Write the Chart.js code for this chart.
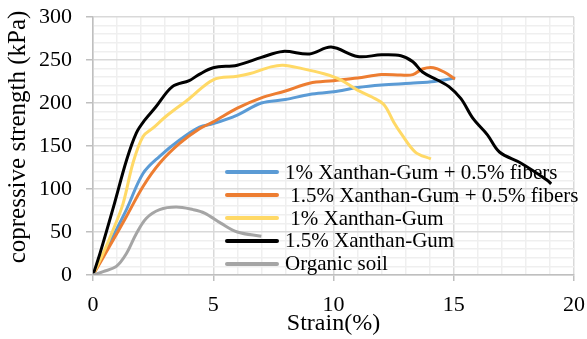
<!DOCTYPE html>
<html>
<head>
<meta charset="utf-8">
<script src="https://cdn.jsdelivr.net/npm/chart.js@4.4.1/dist/chart.umd.min.js"></script>
<style>
  html, body { margin: 0; padding: 0; background: #fff; }
  #wrap { position: relative; width: 587px; height: 339px; }
  #legend {
    position: absolute; left: 225px; top: 161px;
    font-family: "Liberation Serif", "Times New Roman", serif;
    font-size: 21px; color: #000;
  }
  .row { display: flex; align-items: center; height: 22.8px; white-space: pre; }
  .sw { width: 54px; height: 4px; margin-right: 6px; border-radius: 2px; }
  #ytitle {
    position: absolute; left: -133px; top: 122px;
    width: 300px; height: 30px; line-height: 30px; text-align: center;
    font-family: "Liberation Serif", "Times New Roman", serif;
    font-size: 25px; color: #000; white-space: nowrap;
    transform: rotate(-90deg);
  }
</style>
</head>
<body>
<div id="wrap">
  <canvas id="chart" width="587" height="339"></canvas>
  <div id="ytitle">copressive strength (kPa)</div>
  <div id="legend"></div>
</div>
<script>
// Series labels and colours (Excel default palette)
const seriesLabels = [
    '1% Xanthan-Gum + 0.5% fibers',
    ' 1.5% Xanthan-Gum + 0.5% fibers',
    ' 1% Xanthan-Gum',
    '1.5% Xanthan-Gum',
    'Organic soil'
];
const seriesColors = ['#5B9BD5', '#ED7D31', '#FFD966', '#000000', '#A5A5A5'];

// Values: strain (%) and compressive strength (kPa)
const fibers1Strain = [0, 0.7, 1.39, 2.08, 2.77, 3.6, 4.43, 5, 6, 7, 8, 9, 10, 11, 12, 13.2, 14.2, 15.05];
const fibers1Stress = [0, 38, 76, 118, 138, 157, 172, 176, 186, 200, 204, 210, 213, 218, 221, 223, 225, 229];

const fibers15Strain = [0, 0.7, 1.39, 2.08, 2.77, 3.6, 4.43, 5, 6, 7, 8, 9, 10, 11, 12, 12.8, 13.3, 13.7, 14.15, 14.6, 15.05];
const fibers15Stress = [0, 34, 68, 103, 130, 153, 170, 178, 194, 206, 214, 223, 226, 229, 233, 232.5, 233, 239.5, 241, 236, 228];

const gum1Strain = [0, 0.42, 0.83, 1.25, 1.66, 2.08, 2.5, 3.1, 4, 5, 6, 6.5, 7.4, 7.9, 8.7, 9.6, 10.3, 11, 11.6, 12.1, 12.5, 12.8, 13.4, 14.05];
const gum1Stress = [0, 25, 52, 83, 130, 161, 171, 186, 205, 227, 231, 234, 242, 244, 240, 234, 227, 215, 207, 198, 178, 165, 143, 135];

const gum15Strain = [0, 0.3, 0.85, 1.4, 1.8, 2.15, 2.6, 3.3, 4, 4.4, 5, 6, 7, 7.9, 9, 9.9, 11, 12, 12.8, 13.3, 13.7, 14.3, 14.8, 15.3, 15.8, 16.4, 16.9, 17.8, 18.9, 19.05];
const gum15Stress = [0, 26, 79, 134, 165, 180, 195, 219, 226, 233, 241, 244, 253, 260, 257, 265, 254, 256, 255, 248, 236, 227, 219, 205, 182, 163, 143, 130, 110, 106];

const soilStrain = [0, 0.42, 0.97, 1.39, 1.8, 2.22, 2.77, 3.46, 4.16, 4.64, 5.33, 6.0, 7.0];
const soilStress = [0, 4, 10, 25, 48, 66, 76, 79, 76, 72, 60, 50, 45];

// Axis ticks
const xMajorTicks = [0, 5, 10, 15, 20];
const yMajorTicks = [0, 50, 100, 150, 200, 250, 300];

const strains = [fibers1Strain, fibers15Strain, gum1Strain, gum15Strain, soilStrain];
const stresses = [fibers1Stress, fibers15Stress, gum1Stress, gum15Stress, soilStress];

function toPoints(xs, ys) {
    return xs.map((x, i) => ({ x: x, y: ys[i] }));
}

const FONT = '"Liberation Serif", "Times New Roman", serif';
const MAJOR_GRID = '#d9d9d9';
const MINOR_GRID = '#efefef';

const datasets = seriesLabels.map((label, i) => ({
    label: label,
    data: toPoints(strains[i], stresses[i]),
    borderColor: seriesColors[i],
    backgroundColor: seriesColors[i],
    borderWidth: 3,
    pointRadius: 0,
    showLine: true,
    tension: 0.35,
    order: seriesLabels.length - i
}));

new Chart(document.getElementById('chart'), {
    type: 'scatter',
    data: { datasets: datasets },
    options: {
        responsive: false,
        animation: false,
        layout: { padding: { top: 17, right: 13, left: 0, bottom: 0 } },
        plugins: {
            legend: { display: false },
            tooltip: { enabled: false }
        },
        scales: {
            x: {
                type: 'linear',
                min: 0,
                max: 20,
                afterFit: function(scale) {
                    scale.height = 64;
                    scale.paddingLeft = 0;
                    scale.paddingRight = 0;
                },
                ticks: {
                    stepSize: 1,
                    autoSkip: false,
                    maxRotation: 0,
                    padding: 11,
                    color: '#000',
                    font: { family: FONT, size: 22 },
                    callback: function(value) {
                        return xMajorTicks.includes(value) ? value : '';
                    }
                },
                grid: {
                    lineWidth: 1.5,
                    tickLength: 6,
                    color: function(ctx) {
                        return xMajorTicks.includes(ctx.tick && ctx.tick.value) ? MAJOR_GRID : MINOR_GRID;
                    },
                    tickColor: function(ctx) {
                        return xMajorTicks.includes(ctx.tick && ctx.tick.value) ? '#bfbfbf' : 'rgba(0,0,0,0)';
                    }
                },
                border: { color: '#bfbfbf', width: 1.5 },
                title: {
                    display: true,
                    text: 'Strain(%)',
                    color: '#000',
                    font: { family: FONT, size: 24 },
                    padding: { top: 0, bottom: 1 }
                }
            },
            y: {
                type: 'linear',
                min: 0,
                max: 300,
                afterFit: function(scale) {
                    scale.width = 93;
                    scale.paddingTop = 0;
                    scale.paddingBottom = 0;
                },
                ticks: {
                    stepSize: 10,
                    autoSkip: false,
                    padding: 14,
                    color: '#000',
                    font: { family: FONT, size: 22 },
                    callback: function(value) {
                        return yMajorTicks.includes(value) ? value : '';
                    }
                },
                grid: {
                    lineWidth: 1.5,
                    tickLength: 7,
                    color: function(ctx) {
                        return yMajorTicks.includes(ctx.tick && ctx.tick.value) ? MAJOR_GRID : MINOR_GRID;
                    },
                    tickColor: function(ctx) {
                        return yMajorTicks.includes(ctx.tick && ctx.tick.value) ? '#bfbfbf' : 'rgba(0,0,0,0)';
                    }
                },
                border: { color: '#bfbfbf', width: 1.5 }
            }
        }
    }
});

// Legend drawn as HTML inside the plot area
const legendEl = document.getElementById('legend');
seriesLabels.forEach((label, i) => {
    const row = document.createElement('div');
    row.className = 'row';
    const sw = document.createElement('span');
    sw.className = 'sw';
    sw.style.background = seriesColors[i];
    const txt = document.createElement('span');
    txt.textContent = label;
    row.appendChild(sw);
    row.appendChild(txt);
    legendEl.appendChild(row);
});
</script>
</body>
</html>
